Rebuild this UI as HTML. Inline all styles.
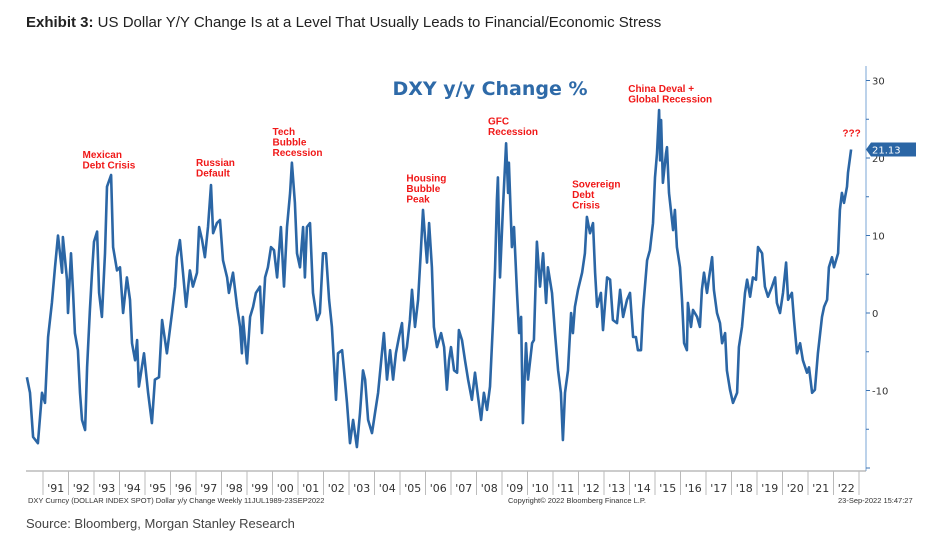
<!DOCTYPE html>
<html><head><meta charset="utf-8"><style>
body{margin:0;background:#fff;width:949px;height:540px;overflow:hidden;font-family:"Liberation Sans",sans-serif}
#hdr{position:absolute;left:26px;top:14px;font-size:15px;color:#222}
#src{position:absolute;left:26px;top:516px;font-size:13px;color:#444}
svg{position:absolute;left:0;top:0}
</style></head><body>
<div id="hdr"><b>Exhibit 3:</b> US Dollar Y/Y Change Is at a Level That Usually Leads to Financial/Economic Stress</div>
<div id="src">Source: Bloomberg, Morgan Stanley Research</div>
<svg id="chart" width="949" height="540"></svg>
<script>
const dates=[1990.37,1990.49,1990.61,1990.80,1990.96,1991.08,1991.20,1991.35,1991.47,1991.59,1991.75,1991.78,1991.94,1991.98,1992.10,1992.18,1992.25,1992.37,1992.45,1992.53,1992.65,1992.73,1992.84,1992.92,1993.00,1993.12,1993.20,1993.31,1993.43,1993.51,1993.67,1993.75,1993.90,1994.02,1994.14,1994.29,1994.41,1994.49,1994.61,1994.69,1994.76,1994.96,1995.12,1995.27,1995.39,1995.55,1995.67,1995.86,1996.06,1996.18,1996.25,1996.37,1996.49,1996.61,1996.76,1996.88,1997.04,1997.12,1997.24,1997.35,1997.47,1997.59,1997.67,1997.82,1997.94,1998.06,1998.22,1998.29,1998.45,1998.61,1998.73,1998.80,1998.84,1999.00,1999.12,1999.24,1999.35,1999.51,1999.59,1999.71,1999.82,1999.94,2000.06,2000.18,2000.33,2000.45,2000.57,2000.69,2000.76,2000.88,2000.96,2001.08,2001.20,2001.27,2001.35,2001.47,2001.59,2001.75,2001.86,2001.98,2002.10,2002.22,2002.33,2002.41,2002.49,2002.57,2002.73,2002.84,2002.92,2003.04,2003.16,2003.31,2003.43,2003.55,2003.63,2003.75,2003.90,2004.02,2004.14,2004.29,2004.37,2004.49,2004.61,2004.73,2004.84,2004.96,2005.08,2005.16,2005.27,2005.39,2005.47,2005.59,2005.71,2005.82,2005.90,2005.98,2006.06,2006.14,2006.25,2006.33,2006.45,2006.61,2006.73,2006.84,2006.92,2007.00,2007.12,2007.24,2007.31,2007.43,2007.55,2007.67,2007.82,2007.94,2008.06,2008.18,2008.29,2008.41,2008.53,2008.65,2008.73,2008.80,2008.84,2008.92,2009.04,2009.16,2009.24,2009.27,2009.39,2009.47,2009.59,2009.67,2009.75,2009.82,2009.94,2010.02,2010.18,2010.25,2010.37,2010.49,2010.61,2010.73,2010.80,2010.96,2011.08,2011.20,2011.31,2011.39,2011.47,2011.59,2011.71,2011.78,2011.86,2011.98,2012.14,2012.25,2012.33,2012.45,2012.57,2012.65,2012.73,2012.88,2012.96,2013.12,2013.24,2013.35,2013.51,2013.63,2013.75,2013.90,2014.02,2014.14,2014.25,2014.33,2014.45,2014.53,2014.69,2014.80,2014.92,2015.00,2015.08,2015.16,2015.20,2015.24,2015.31,2015.43,2015.47,2015.55,2015.71,2015.78,2015.86,2015.98,2016.06,2016.14,2016.25,2016.29,2016.41,2016.49,2016.65,2016.76,2016.84,2016.92,2017.04,2017.12,2017.24,2017.31,2017.43,2017.55,2017.63,2017.75,2017.82,2017.94,2018.06,2018.22,2018.29,2018.41,2018.53,2018.61,2018.73,2018.84,2018.96,2019.04,2019.20,2019.31,2019.43,2019.59,2019.71,2019.78,2019.90,2020.02,2020.14,2020.22,2020.37,2020.45,2020.57,2020.69,2020.80,2020.96,2021.04,2021.16,2021.27,2021.39,2021.55,2021.63,2021.75,2021.82,2021.94,2022.02,2022.18,2022.25,2022.33,2022.41,2022.53,2022.57,2022.69];
const values=[-8.3,-10.3,-16,-16.8,-10.3,-11.6,-3.1,1.3,5.9,10,5.2,9.8,4.3,0,7.7,2.6,-2.6,-4.8,-10.3,-13.8,-15.1,-7,0.4,5.2,9.2,10.5,2.6,-0.5,7.7,16.3,17.8,8.5,5.5,5.9,0,4.6,1.7,-3.9,-6.1,-3.5,-9.5,-5.2,-10.3,-14.2,-8.6,-8.3,-0.9,-5.2,0,3.4,7.2,9.4,5.2,0.8,5.5,3.4,5.2,11.1,9.4,7.2,11.1,16.5,10.3,11.6,12,6.8,4.6,2.6,5.2,0.8,-1.8,-5.2,-0.5,-6.5,-0.5,0.8,2.6,3.4,-2.6,4.6,5.9,8.5,8.1,4.6,11.1,3.4,11.1,15.5,19.4,14.2,7.7,5.9,11.1,4.6,11.1,11.6,2.6,-0.9,0,7.7,7.7,1.7,-1.8,-6.5,-11.2,-5.2,-4.8,-8.6,-11.6,-16.8,-13.8,-17.3,-12.9,-7.4,-8.6,-13.8,-15.5,-12.9,-10.3,-5.2,-2.6,-8.6,-4.8,-8.6,-5.2,-3.1,-1.3,-6.1,-4.4,-0.9,3,-1.8,1.7,8.1,13.3,9.8,6.5,11.6,5.9,-1.8,-4.4,-2.6,-4.4,-9.9,-6.1,-4.4,-7.4,-7.7,-2.2,-3.5,-6.1,-8.6,-11.2,-7.7,-10.8,-13.8,-10.3,-12.5,-9.5,-0.9,5.9,14.6,17.5,4.6,13.7,21.9,15.5,19.4,8.5,11.1,2.6,-2.6,-0.5,-14.2,-3.9,-8.6,-3.9,-3.5,9.2,3.4,7.7,1.3,5.9,2.6,-2.6,-7.4,-10.3,-16.4,-10.3,-7.4,0,-2.6,0.8,3,5.2,7.7,12.4,10.3,11.6,5.2,0.8,2.6,-2.2,4.6,4.3,-0.9,-1.3,3,-0.5,1.7,2.6,-3.1,-3.1,-4.8,-4.8,0.4,6.8,8.1,11.6,17.5,20.6,26.2,19.7,24.9,16.8,20.6,21.4,15.5,10.7,13.3,8.5,5.9,1.7,-3.9,-4.8,1.3,-1.8,0.4,-0.5,-1.8,3,5.2,2.6,4.6,7.2,3,0,-1.3,-3.9,-2.6,-7.4,-9.9,-11.6,-10.3,-4.4,-1.8,2.6,4.3,2.1,4.6,4.3,8.5,7.7,3.4,2.1,3.4,4.6,1.3,0,2.6,6.5,1.7,2.6,-0.9,-5.2,-3.9,-6.1,-7.7,-7,-10.3,-9.9,-5.2,-0.5,0.8,1.7,5.9,7.2,5.9,7.7,13.3,15.5,14.2,16.3,18.1,21.1];
const yTicks=[30,20,10,0,-10];
const yearLabels=["'91","'92","'93","'94","'95","'96","'97","'98","'99","'00","'01","'02","'03","'04","'05","'06","'07","'08","'09","'10","'11","'12","'13","'14","'15","'16","'17","'18","'19","'20","'21","'22"];
const annotations=[
 {t:["Mexican","Debt Crisis"],d:1992.55,v:20.0},
 {t:["Russian","Default"],d:1997.0,v:19.0},
 {t:["Tech","Bubble","Recession"],d:2000.0,v:23.0},
 {t:["Housing","Bubble","Peak"],d:2005.25,v:17.0},
 {t:["GFC","Recession"],d:2008.45,v:24.3},
 {t:["Sovereign","Debt","Crisis"],d:2011.75,v:16.2},
 {t:["China Deval +","Global Recession"],d:2013.95,v:28.5},
 {t:["???"],d:2022.35,v:22.8}
];
const NS="http://www.w3.org/2000/svg";
const svg=document.getElementById('chart');
const X=d=>43+(d-1991)*25.5;
const Y=v=>313-v*7.75;
function el(tag,attrs,parent){const e=document.createElementNS(NS,tag);for(const k in attrs)e.setAttribute(k,attrs[k]);(parent||svg).appendChild(e);return e;}
let t=el('text',{x:490,y:95,'text-anchor':'middle','font-size':19,'font-weight':'bold',fill:'#2e6aa8','font-family':'DejaVu Sans, sans-serif'});
t.textContent='DXY y/y Change %';
let ax=el('line',{x1:866,y1:66,x2:866,y2:471,stroke:'#7aa6d6','stroke-width':1});

for(let v=-20;v<=30;v+=5){let tk=el('line',{x1:866,x2:v%10===0?870:869,y1:Y(v),y2:Y(v),stroke:'#3b73b3','stroke-width':1});}
yTicks.forEach(v=>{let l=el('text',{x:872,y:Y(v)+4,'font-size':10,fill:'#333','font-family':'DejaVu Sans, sans-serif'});l.textContent=v;});
let bx=el('line',{x1:26,y1:471,x2:866,y2:471,stroke:'#999','stroke-width':1});

for(let i=0;i<=yearLabels.length;i++){let s=el('line',{x1:X(1991+i),x2:X(1991+i),y1:471,y2:495,stroke:'#bbb','stroke-width':1});}
yearLabels.forEach((lb,i)=>{let l=el('text',{x:X(1991+i+0.5),y:492,'text-anchor':'middle','font-size':11,fill:'#333','font-family':'DejaVu Sans, sans-serif'});l.textContent=lb;});
let f1=el('text',{x:28,y:503,'font-size':7.5,fill:'#333','font-family':'Liberation Sans, sans-serif'});f1.textContent='DXY Curncy (DOLLAR INDEX SPOT) Dollar y/y Change  Weekly 11JUL1989-23SEP2022';
let f2=el('text',{x:508,y:503,'font-size':7.5,fill:'#333','font-family':'Liberation Sans, sans-serif'});f2.textContent='Copyright© 2022 Bloomberg Finance L.P.';
let f3=el('text',{x:838,y:503,'font-size':7.5,fill:'#333','font-family':'Liberation Sans, sans-serif'});f3.textContent='23-Sep-2022 15:47:27';
let d=dates.map((x,i)=>(i?'L':'M')+X(x).toFixed(1)+' '+Y(values[i]).toFixed(1)).join(' ');
let p=el('path',{d:d,fill:'none',stroke:'#2b66a5','stroke-width':2.6,'stroke-linejoin':'round'});

const lastV=values[values.length-1];
let lb=el('path',{d:`M866 ${Y(lastV)} L871 ${Y(lastV)-7} L916 ${Y(lastV)-7} L916 ${Y(lastV)+7} L871 ${Y(lastV)+7} Z`,fill:'#2b66a5'});

let lt=el('text',{x:872,y:Y(lastV)+4,'font-size':10,fill:'#fff','font-family':'DejaVu Sans, sans-serif'});
lt.textContent='21.13';
annotations.forEach(a=>{let g=el('text',{x:X(a.d),y:Y(a.v),'font-size':10,'font-weight':'bold',fill:'#f01818','font-family':'Liberation Sans, sans-serif'});
a.t.forEach((s,i)=>{let ts=el('tspan',{x:X(a.d),dy:i?10.5:0},g);ts.textContent=s;});});
</script>
</body></html>
